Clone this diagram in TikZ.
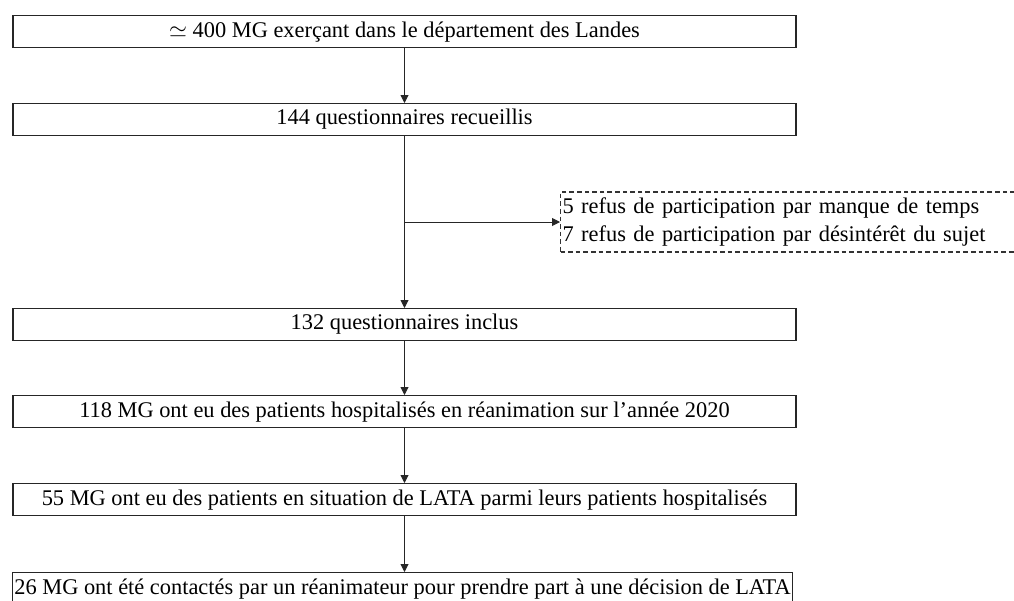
\documentclass[tikz,border=0pt]{standalone}
\usepackage{fontspec}
\setmainfont{Liberation Serif}
\usetikzlibrary{arrows.meta}
\begin{document}
\begin{tikzpicture}[x=0.75pt,y=-0.75pt,
  every node/.style={font=\fontsize{16.8}{20.3}\selectfont},
  box/.style={draw=black!85, line width=0.9pt, minimum width=587.25pt, minimum height=24pt, inner sep=1.5pt, anchor=north},
  tightbox/.style={draw=black!85, line width=0.9pt, minimum height=24pt, inner sep=1.5pt, anchor=north},
  dbox/.style={draw=black!80, line width=0.8pt, dash pattern=on 3.5pt off 2.2pt, minimum height=45pt, text width=370pt, align=left, inner sep=1.5pt, anchor=west},
  arr/.style={draw=black!85, line width=0.7pt, -{Triangle[length=6pt,width=6pt]}}
]
\useasboundingbox (0,0) rectangle (1014,600);
\fill[white] (0,0) rectangle (1014,600);
\node[box] (b1) at (404.5,15) {$\simeq$ 400 MG exerçant dans le département des Landes};
\node[box] (b2) at (404.5,103) {144 questionnaires recueillis};
\node[box] (b3) at (404.5,308) {132 questionnaires inclus};
\node[box] (b4) at (404.5,395) {118 MG ont eu des patients hospitalisés en réanimation sur l’année 2020};
\node[box] (b5) at (404.5,483) {55 MG ont eu des patients en situation de LATA parmi leurs patients hospitalisés};
\node[tightbox] (b6) at (402.5,572) {26 MG ont été contactés par un réanimateur pour prendre part à une décision de LATA};
\node[dbox] (rf) at (560,222) {5 refus de participation par manque de temps\\7 refus de participation par désintérêt du sujet};
\coordinate (br) at (404.5,222);
\draw[arr] (b1.south) -- (b2.north);
\draw[arr] (b2.south) -- (b3.north);
\draw[arr] (br) -- (rf.west);
\draw[arr] (b3.south) -- (b4.north);
\draw[arr] (b4.south) -- (b5.north);
\draw[arr] (b5.south) -- (b5.south |- b6.north);
\end{tikzpicture}
\end{document}
